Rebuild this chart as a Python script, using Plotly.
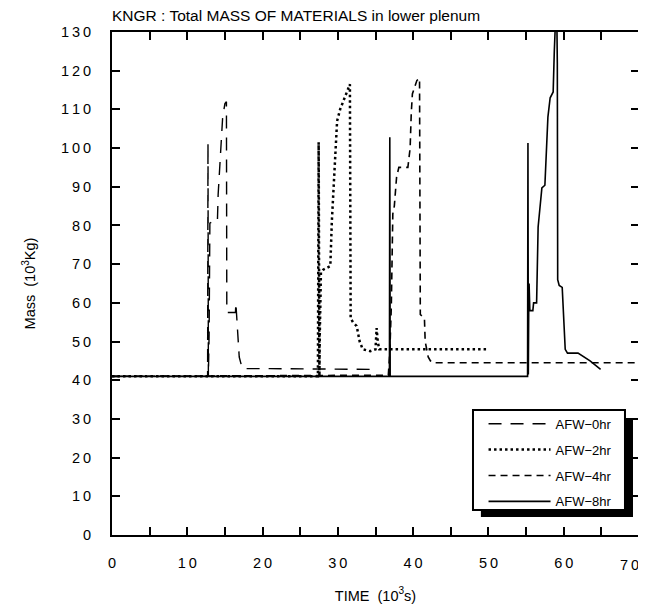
import plotly.graph_objects as go

# ---------------- data (time in 10^3 s, mass in 10^3 kg) ----------------
t_0hr = [0, 12.7, 12.75, 12.8, 12.9, 13.0, 13.4, 14.0, 14.1, 14.3, 14.5, 14.7, 15.0, 15.2, 15.25, 15.4, 16.4, 16.45, 16.7, 16.9, 17.3, 21.0, 35.0]
m_0hr = [41, 41, 101.3, 41, 52, 80.6, 81, 81, 88, 95, 103, 108, 111.5, 112, 57.5, 57.5, 57.5, 60, 50, 46, 43, 43, 42.8]

t_2hr = [0, 27.35, 27.45, 27.55, 27.6, 27.7, 27.75, 28.0, 29.0, 29.2, 29.5, 29.9, 30.3, 30.8, 31.3, 31.6, 31.7, 32.0, 32.5, 32.9, 33.3, 34.3, 35.0, 35.15, 35.3, 35.5, 36.5, 50.0]
m_2hr = [41, 41, 101.5, 41, 52, 62, 68, 68.5, 69.5, 81, 94, 107, 110, 112.5, 115, 116.5, 56, 55, 54, 50, 48, 47.5, 48, 53.5, 50, 48, 48, 48]

t_4hr = [0, 36.7, 36.9, 37.1, 37.3, 37.5, 37.8, 38.1, 39.3, 39.6, 39.75, 39.9, 40.5, 40.85, 40.95, 41.5, 41.6, 41.8, 42.0, 42.3, 42.6, 70.0]
m_4hr = [41, 41.3, 47, 59, 83, 85, 92.5, 95, 95, 100, 109, 114, 117.5, 118, 57, 56, 50, 48, 46, 45, 44.5, 44.5]

t_8hr = [0, 36.85, 36.9, 36.95, 55.2, 55.25, 55.3, 55.35, 55.4, 55.5, 55.9, 56.0, 56.4, 56.6, 56.9, 57.1, 57.5, 57.7, 57.9, 58.2, 58.6, 58.75, 58.95, 59.05, 59.15, 59.2, 59.4, 59.8, 60.2, 60.5, 61.9, 63.5, 64.9]
m_8hr = [41, 41, 102.8, 41, 41, 101.3, 41.5, 58, 65, 58, 58, 60, 60, 79.6, 87, 89.7, 90.4, 101, 108, 113, 114.5, 125, 140, 140, 122, 66, 64.5, 64, 48, 47, 47, 45, 42.8]

series_names = ["AFW\u22120hr", "AFW\u22122hr", "AFW\u22124hr", "AFW\u22128hr"]

x_ticks = list(range(0, 61, 10))          # labelled ticks drawn by the axis
x_last = 70                               # last label sits at the page edge: drawn as an annotation
x_ticktext = ["\u2009".join(str(v)) for v in x_ticks]
y_ticks = list(range(0, 131, 10))
y_ticktext = ["\u2009".join(str(v)) for v in y_ticks]

FONT = "Liberation Sans, Arial, sans-serif"

fig = go.Figure()
styles = [
    dict(color="black", width=1.4, dash="13px,9px"),
    dict(color="black", width=2.5, dash="2.5px,3px"),
    dict(color="black", width=1.6, dash="7px,5px"),
    dict(color="black", width=1.6, dash="solid"),
]
for i, (t, m) in enumerate([(t_0hr, m_0hr), (t_2hr, m_2hr), (t_4hr, m_4hr), (t_8hr, m_8hr)]):
    fig.add_trace(go.Scatter(x=t, y=m, mode="lines", name=series_names[i],
                             line=styles[i], legendgroup=f"g{i}"))

# page body has an 8px margin, so the figure is sized/offset to compensate
fig.update_layout(
    width=638, height=604,
    margin=dict(l=104, r=7, t=24, b=77, autoexpand=False),
    paper_bgcolor="white", plot_bgcolor="white",
    font=dict(family=FONT, size=14.5, color="black"),
    title=dict(text="KNGR : Total MASS OF MATERIALS in lower plenum",
               x=104/638, xanchor="left", y=1 - 7.5/604, yanchor="middle",
               font=dict(family=FONT, size=15.5, color="black")),
    showlegend=True,
    legend=dict(x=0.705, y=0.251, xanchor="left", yanchor="top",
                bgcolor="rgba(0,0,0,0)", borderwidth=0,
                font=dict(family=FONT, size=13, color="black"),
                itemwidth=62, tracegroupgap=6, traceorder="grouped"),
    shapes=[
        dict(type="rect", xref="paper", yref="paper", x0=0.700, x1=0.9886, y0=0.0358, y1=0.2326,
             fillcolor="black", line=dict(width=0), layer="above"),
        dict(type="rect", xref="paper", yref="paper", x0=0.685, x1=0.9734, y0=0.0497, y1=0.2485,
             fillcolor="white", line=dict(color="black", width=2), layer="above"),
    ],
    annotations=[
        dict(text="\u2009".join(str(x_last)), x=x_last, xref="x", y=0, yref="paper",
             xanchor="center", yanchor="top", xshift=-10, yshift=-20, showarrow=False,
             font=dict(family=FONT, size=14.5, color="black")),
    ],
)

fig.update_xaxes(range=[0, 70], tickmode="array", tickvals=x_ticks, ticktext=x_ticktext,
                 ticks="inside", ticklen=8, tickwidth=2, tickcolor="black",
                 minor=dict(dtick=5, tick0=0, ticks="inside", ticklen=8, tickwidth=2, tickcolor="black"),
                 showline=True, linewidth=2, linecolor="black", mirror="ticks",
                 showgrid=False, zeroline=False, ticklabelstandoff=14, automargin=False,
                 title=dict(text="TIME  (10<sup>3</sup>s)", standoff=20,
                            font=dict(family=FONT, size=14.5)))
fig.update_yaxes(range=[0, 130], tickmode="array", tickvals=y_ticks, ticktext=y_ticktext,
                 ticks="inside", ticklen=8, tickwidth=2, tickcolor="black",
                 showline=True, linewidth=2, linecolor="black", mirror="ticks",
                 showgrid=False, zeroline=False, ticklabelstandoff=16, automargin=False,
                 title=dict(text="Mass  (10<sup>3</sup>Kg)", standoff=22,
                            font=dict(family=FONT, size=14.5)))

fig.write_html("out.html")
